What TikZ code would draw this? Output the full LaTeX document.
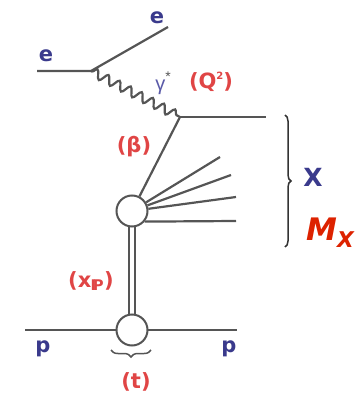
\documentclass[tikz,border=0pt]{standalone}
\usepackage{fontspec}
\setmainfont{DejaVu Sans}
\newfontfamily\gfont{Liberation Sans}
\usetikzlibrary{decorations.pathmorphing,decorations.pathreplacing}
\definecolor{lred}{HTML}{E04545}
\definecolor{mred}{HTML}{DD2200}
\definecolor{lblue}{HTML}{3A3A8C}
\definecolor{gblue}{HTML}{5A5AA8}
\definecolor{lgray}{HTML}{555555}
\definecolor{dgray}{HTML}{333333}
\tikzset{
  prop/.style={draw=lgray, line width=2.2pt},
  blob/.style={circle, draw=lgray, line width=2pt, fill=white, minimum size=31pt, inner sep=0pt},
  redlab/.style={text=lred, font=\bfseries\fontsize{21}{23}\selectfont, inner sep=0pt},
  bluelab/.style={text=lblue, font=\bfseries\fontsize{21}{23}\selectfont, inner sep=0pt},
  bracestyle/.style={draw=dgray, line width=1.5pt, decorate},
}
\begin{document}
\begin{tikzpicture}[x=1pt,y=-1pt]
\useasboundingbox (0,0) rectangle (354,404);
% vertices
\coordinate (ein) at (37,71);
\coordinate (v1) at (91,71);
\coordinate (eout) at (168,27);
\coordinate (v2) at (180,117);
\coordinate (q) at (266,117);
\coordinate (s1) at (220,157);
\coordinate (s2) at (231,175);
\coordinate (s3) at (236,197);
\coordinate (s4) at (236,221);
\coordinate (pin) at (25,330);
\coordinate (pout) at (237,330);
% pomeron double line (drawn before blobs)
\draw[lgray, line width=1.8pt, double=white, double distance=4pt] (132,212) -- (132,330);
% proton line
\draw[prop] (pin) -- (pout);
% electron lines
\draw[prop] (ein) -- (v1) -- (eout);
% photon
\draw[prop, decorate, decoration={snake, amplitude=4.5pt, segment length=12.5pt, pre length=1pt, post length=1pt}] (v1) -- (v2);
% quark line
\draw[prop] (v2) -- (q);
\node[blob] (b1) at (132,211) {};
\node[blob] (b2) at (132,330) {};
\draw[prop] (v2) -- (b1);
\draw[prop] (b1) -- (s1);
\draw[prop] (b1) -- (s2);
\draw[prop] (b1) -- (s3);
\draw[prop] (b1.-40) -- (s4);
% braces
\coordinate (xb1) at (285,115);
\coordinate (xb2) at (285,247);
\draw[bracestyle, decoration={brace, amplitude=6pt}] (xb1) -- (xb2);
\coordinate (tb1) at (111,350);
\coordinate (tb2) at (151,350);
\draw[bracestyle, draw=lgray, decoration={brace, mirror, amplitude=7pt}] (tb1) -- (tb2);
% labels
\node[bluelab] (le1) at (46,56) {e};
\node[bluelab] (le2) at (157,18) {e};
\node[text=gblue, font=\gfont\fontsize{20}{22}\selectfont, inner sep=0pt] (lg) at (163,83) {γ\raisebox{0.85ex}{\textcolor{lgray}{\fontsize{14}{14}\selectfont *}}};
\node[redlab] (lq) at (211,82) {(Q\raisebox{0.8ex}{\fontsize{10}{10}\selectfont 2})};
\node[redlab] (lb) at (134,147) {(β)};
\node[bluelab, font=\bfseries\fontsize{25}{27}\selectfont] (lx) at (313,177) {X};
\node[text=mred, font=\bfseries\itshape\fontsize{31}{33}\selectfont, inner sep=0pt, anchor=west] (lmx) at (306,233) {M\textsubscript{X}};
\node[redlab] (lxp) at (91,281) {(x\textsubscript{\kern-0.05em I\kern-0.22em P})};
\node[bluelab] (lp1) at (43,349) {p};
\node[bluelab] (lp2) at (229,349) {p};
\node[redlab] (lt) at (136,382) {(t)};
\end{tikzpicture}
\end{document}
